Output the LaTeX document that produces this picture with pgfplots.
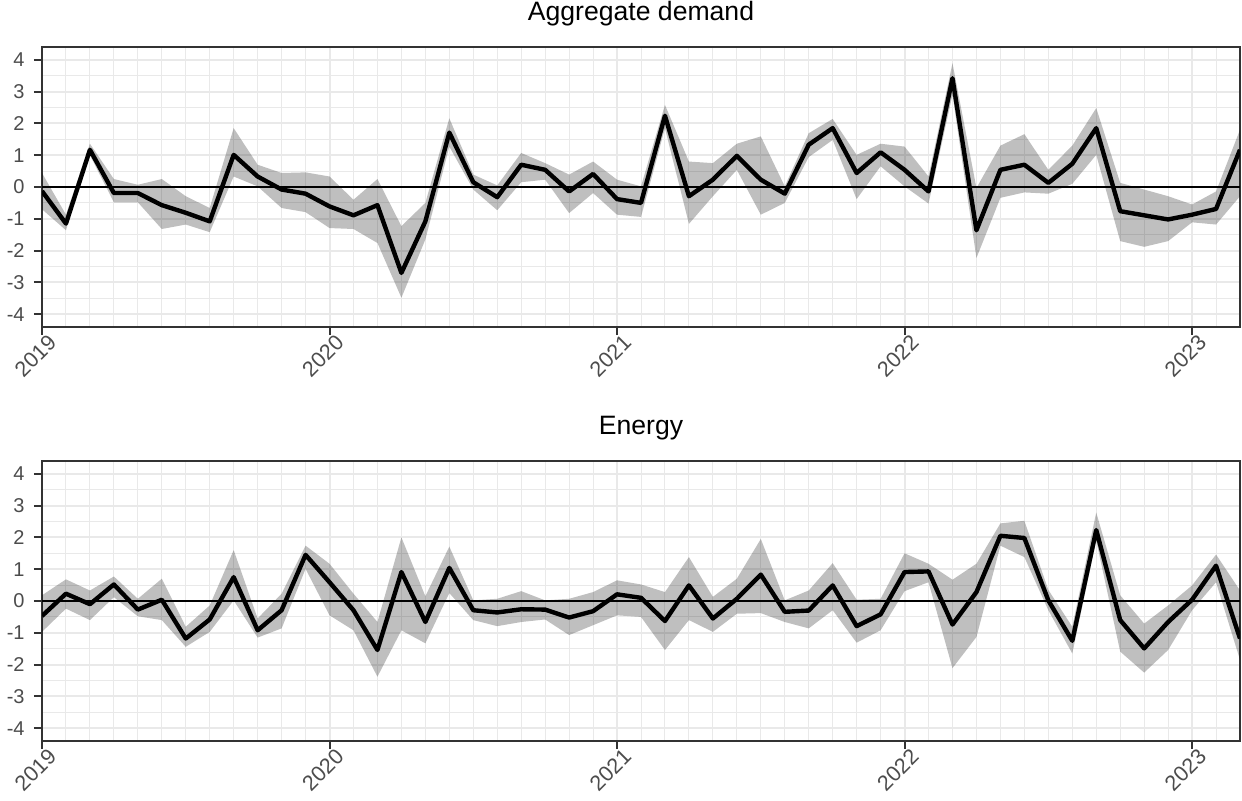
\documentclass[border=0pt]{standalone}
\usepackage{fontspec}
\setmainfont{Liberation Sans}
\usepackage{pgfplots}
\pgfplotsset{compat=1.18}
\usepackage{pgfplotstable}
\usepgfplotslibrary{fillbetween}
\definecolor{g20}{gray}{0.2}
\definecolor{g30}{gray}{0.3}
\definecolor{g92}{gray}{0.915}

\pgfplotstableread{
i mid lo hi
0 -0.13 -0.70 0.44
1 -1.15 -1.36 -0.87
2 1.17 1.00 1.36
3 -0.19 -0.48 0.25
4 -0.19 -0.48 0.07
5 -0.57 -1.32 0.25
6 -0.81 -1.18 -0.29
7 -1.08 -1.42 -0.66
8 1.01 0.33 1.85
9 0.33 0.02 0.70
10 -0.08 -0.66 0.44
11 -0.21 -0.79 0.46
12 -0.61 -1.29 0.33
13 -0.89 -1.32 -0.40
14 -0.57 -1.76 0.25
15 -2.70 -3.48 -1.23
16 -1.08 -1.65 -0.50
17 1.71 1.27 2.16
18 0.15 -0.08 0.39
19 -0.32 -0.73 0.05
20 0.70 0.15 1.07
21 0.54 0.23 0.75
22 -0.14 -0.82 0.39
23 0.41 -0.19 0.80
24 -0.38 -0.87 0.23
25 -0.50 -0.94 0.02
26 2.24 1.85 2.58
27 -0.29 -1.16 0.80
28 0.23 -0.29 0.75
29 0.98 0.54 1.36
30 0.23 -0.87 1.59
31 -0.21 -0.50 0.02
32 1.33 0.94 1.69
33 1.85 1.48 2.14
34 0.44 -0.38 1.01
35 1.09 0.65 1.36
36 0.54 0.02 1.27
37 -0.14 -0.52 0.33
38 3.42 2.90 3.89
39 -1.36 -2.23 -0.03
40 0.54 -0.34 1.30
41 0.70 -0.17 1.66
42 0.13 -0.21 0.54
43 0.73 0.10 1.30
44 1.85 1.01 2.48
45 -0.76 -1.70 0.13
46 -0.89 -1.88 -0.08
47 -1.02 -1.70 -0.29
48 -0.87 -1.11 -0.55
49 -0.69 -1.18 -0.14
50 1.17 -0.29 1.80
}\tabAD

\pgfplotstableread{
i mid lo hi
0 -0.47 -0.97 0.18
1 0.23 -0.24 0.68
2 -0.10 -0.60 0.33
3 0.52 0.12 0.77
4 -0.27 -0.48 0.07
5 0.04 -0.60 0.70
6 -1.18 -1.44 -0.81
7 -0.58 -0.97 -0.14
8 0.75 0.02 1.60
9 -0.92 -1.15 -0.55
10 -0.29 -0.86 0.23
11 1.45 1.01 1.74
12 0.59 -0.45 1.17
13 -0.29 -0.92 0.23
14 -1.54 -2.38 -0.66
15 0.91 -0.92 2.00
16 -0.66 -1.33 0.15
17 1.04 0.25 1.71
18 -0.29 -0.60 0.02
19 -0.36 -0.79 0.07
20 -0.26 -0.66 0.31
21 -0.27 -0.58 0.02
22 -0.52 -1.07 0.07
23 -0.32 -0.76 0.28
24 0.21 -0.45 0.65
25 0.10 -0.50 0.52
26 -0.63 -1.54 0.28
27 0.49 -0.60 1.38
28 -0.55 -0.97 0.13
29 0.07 -0.40 0.70
30 0.83 -0.38 1.95
31 -0.34 -0.66 0.02
32 -0.30 -0.86 0.33
33 0.49 -0.29 1.19
34 -0.79 -1.31 0.04
35 -0.42 -0.92 0.07
36 0.91 0.31 1.50
37 0.93 0.59 1.17
38 -0.74 -2.11 0.67
39 0.28 -1.13 1.17
40 2.05 1.74 2.44
41 1.98 1.38 2.52
42 0.02 -0.29 0.35
43 -1.25 -1.65 -0.81
44 2.23 1.90 2.78
45 -0.60 -1.59 0.18
46 -1.49 -2.25 -0.71
47 -0.66 -1.54 -0.14
48 0.04 -0.29 0.49
49 1.11 0.59 1.46
50 -1.18 -1.85 0.33
}\tabEN

\pgfplotsset{
  panel/.style={
    scale only axis, width=599bp, height=140bp,
    xmin=0, xmax=50, ymin=-4.4, ymax=4.4,
    xtick={0,12,24,36,48}, xticklabels={2019,2020,2021,2022,2023},
    minor xtick={1,...,50},
    ytick={-4,-3,...,4}, yticklabels={-4,-3,-2,-1,0,1,2,3,4},
    minor ytick={-3.5,-2.5,...,3.5},
    grid=both,
    major grid style={g92, line width=1bp},
    minor grid style={g92, line width=0.5bp},
    tick align=outside, tick pos=left,
    major tick length=4bp, minor tick length=0pt,
    every tick/.style={g20, line width=1bp},
    axis line style={g20, line width=1bp},
    /pgf/number format/assume math mode=true,
    yticklabel style={font=\fontsize{10bp}{11bp}\selectfont, text=g30, anchor=east, inner sep=0pt, xshift=-4.5bp},
    xticklabel style={font=\fontsize{10.8bp}{12bp}\selectfont, text=g30, rotate=45, anchor=north east, inner sep=0pt, xshift=2.5bp, yshift=-1bp},
    title style={font=\fontsize{13.3bp}{16bp}\selectfont, at={(0.5,1)}, anchor=base, yshift=7.5bp},
  },
}

\begin{document}
\begin{tikzpicture}
\begin{axis}[panel, name=top, at={(0,0)}, anchor=south west, title={Aggregate demand}]
  \addplot[name path=hiA, draw=none, forget plot] table[x=i, y=hi]{\tabAD};
  \addplot[name path=loA, draw=none, forget plot] table[x=i, y=lo]{\tabAD};
  \addplot[fill=black, fill opacity=0.25, draw=none] fill between[of=hiA and loA];
  \addplot[black, line width=1bp] coordinates {(0,0) (50,0)};
  \addplot[black, line width=2.2bp, line join=round, mark=none] table[x=i, y=mid]{\tabAD};
\end{axis}
\begin{axis}[panel, name=bot, at={(0,-207bp)}, anchor=south west, title={Energy}]
  \addplot[name path=hiE, draw=none, forget plot] table[x=i, y=hi]{\tabEN};
  \addplot[name path=loE, draw=none, forget plot] table[x=i, y=lo]{\tabEN};
  \addplot[fill=black, fill opacity=0.25, draw=none] fill between[of=hiE and loE];
  \addplot[black, line width=1bp] coordinates {(0,0) (50,0)};
  \addplot[black, line width=2.2bp, line join=round, mark=none] table[x=i, y=mid]{\tabEN};
\end{axis}
\pgfresetboundingbox
\path[use as bounding box] (-21bp,-237bp) rectangle (600bp,163.5bp);
\end{tikzpicture}
\end{document}
